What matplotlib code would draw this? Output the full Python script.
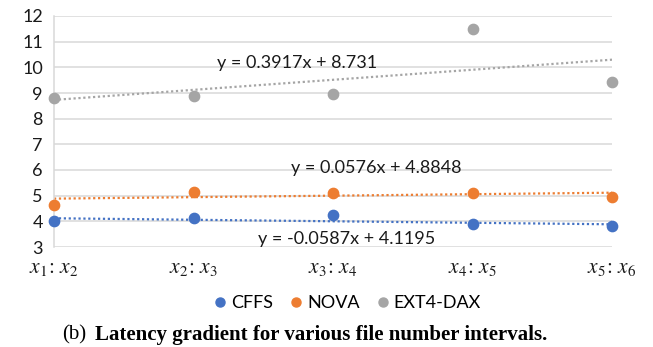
import numpy as np
import matplotlib
matplotlib.use('Agg')
import matplotlib.pyplot as plt
from matplotlib.lines import Line2D

# data
intervals = ['$x_1\\!:\\,x_2$', '$x_2\\!:\\,x_3$', '$x_3\\!:\\,x_4$', '$x_4\\!:\\,x_5$', '$x_5\\!:\\,x_6$']
series = ['CFFS', 'NOVA', 'EXT4-DAX']
cffs = [4.01, 4.12, 4.25, 3.88, 3.81]
nova = [4.65, 5.15, 5.12, 5.12, 4.94]
ext4 = [8.80, 8.87, 8.98, 11.48, 9.44]

# trendline equations printed on the chart
slopes = [-0.0587, 0.0576, 0.3917]
intercepts = [4.1195, 4.8848, 8.731]
eq_pos = [(2.10, 3.30), (2.31, 6.07), (1.74, 10.17)]

colors = ['#4472C4', '#ED7D31', '#A5A5A5']
grid_c = '#D9D9D9'

plt.rcParams['font.family'] = ['Lato', 'DejaVu Sans']
plt.rcParams['mathtext.fontset'] = 'stix'

fig = plt.figure(figsize=(6.53, 3.47), dpi=100)
ax = fig.add_axes([54 / 653, 1 - 247 / 347, (612 - 54) / 653, (247 - 16) / 347])

x = np.arange(len(intervals))
xs = np.linspace(0, len(intervals) - 1, 50)

for vals, c, k, b, lab in zip([cffs, nova, ext4], colors, slopes, intercepts, series):
    ax.plot(xs, k * xs + b, color=c, lw=1.6, dashes=(1, 1.2), zorder=2)
    ax.scatter(x, vals, s=55, color=c, zorder=3, clip_on=False, label=lab)

for k, b, (px, py) in zip(slopes, intercepts, eq_pos):
    sign = '+' if b >= 0 else '-'
    ax.text(px, py, 'y = %gx %s %g' % (k, sign, abs(b)), ha='center', va='center',
            fontsize=13, color='#1a1a1a', zorder=4)

ax.set_xlim(0, 4)
ax.set_ylim(3, 12)
ax.set_yticks(range(3, 13))
ax.set_xticks(x)
ax.set_xticklabels(intervals)
ax.yaxis.grid(True, color=grid_c, lw=1.1)
ax.set_axisbelow(True)
ax.tick_params(length=0, colors='#1a1a1a')
ax.tick_params(axis='y', pad=8, labelsize=13)
ax.tick_params(axis='x', pad=8, labelsize=15.5)
for s in ['top', 'right', 'bottom']:
    ax.spines[s].set_visible(False)
ax.spines['left'].set_color(grid_c)
ax.spines['left'].set_linewidth(1.1)

handles = [Line2D([], [], ls='none', marker='o', ms=6.5, color=c) for c in colors]
fig.legend(handles, series, loc='center', bbox_to_anchor=(346 / 653, 1 - 303 / 347),
           ncol=3, frameon=False, fontsize=13, handletextpad=0.1, columnspacing=0.8,
           handlelength=1.0)

fig.text(62 / 653, 1 - 335 / 347, '(b)', family='Liberation Serif', fontsize=15,
         ha='left', va='center')
fig.text(95 / 653, 1 - 335 / 347, 'Latency gradient for various file number intervals.',
         family='Liberation Serif', fontweight='bold', fontsize=15, ha='left', va='center')

fig.savefig('out.png', dpi=100)
